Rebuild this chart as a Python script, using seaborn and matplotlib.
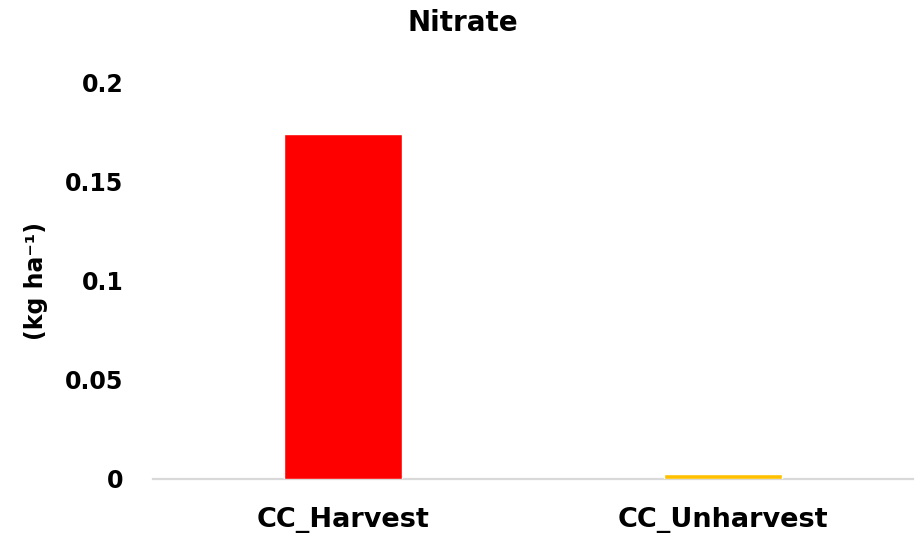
import matplotlib
matplotlib.use("Agg")
import matplotlib.pyplot as plt
import seaborn as sns
import pandas as pd

categories = ["CC_Harvest", "CC_Unharvest"]
values = [0.174, 0.0023]
colors = ["#FF0000", "#FFC000"]
yticks = [0, 0.05, 0.1, 0.15, 0.2]
ytick_labels = ["0", "0.05", "0.1", "0.15", "0.2"]

sns.set_style("white")
plt.rcParams["font.family"] = ["DejaVu Sans"]
plt.rcParams["text.color"] = "black"
plt.rcParams["xtick.color"] = "black"
plt.rcParams["ytick.color"] = "black"
plt.rcParams["axes.labelcolor"] = "black"

df = pd.DataFrame({"cat": categories, "val": values})

fig = plt.figure(figsize=(9.15, 5.38), dpi=100)
ax = fig.add_axes([153/915, 1-479/538, 760/915, (479-82)/538])
sns.barplot(data=df, x="cat", y="val", hue="cat", palette=colors, width=0.31,
            legend=False, ax=ax, saturation=1)
ax.set_xlim(-0.5, 1.5)
ax.set_ylim(0, 0.2)
ax.set_yticks(yticks)
ax.set_yticklabels(ytick_labels, fontsize=17, fontweight="bold")
ax.set_xticks(range(len(categories)))
ax.set_xticklabels(categories, fontsize=19.5, fontweight="bold")
ax.tick_params(axis="y", length=0, pad=21.5)
ax.tick_params(axis="x", length=0, pad=20)
ax.set_xlabel("")
ax.set_ylabel("(kg ha\u207b\u00b9)", fontsize=17, fontweight="bold", labelpad=12)
for s in ["top", "right", "left"]:
    ax.spines[s].set_visible(False)
ax.spines["bottom"].set_color("#D9D9D9")
ax.spines["bottom"].set_linewidth(1.6)
ax.spines["bottom"].set_zorder(0.5)
fig.text(463/915, 1-23/538, "Nitrate", fontsize=20, fontweight="bold",
         ha="center", va="center")
fig.savefig("out.png", dpi=100)
